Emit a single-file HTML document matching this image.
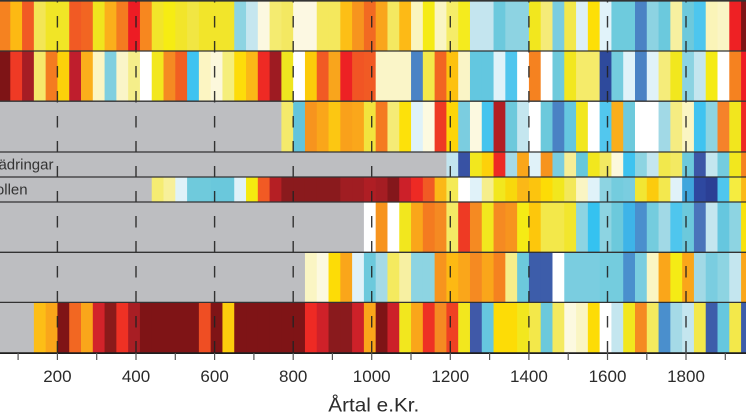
<!DOCTYPE html>
<html><head><meta charset="utf-8"><style>
html,body{margin:0;padding:0;background:#fff;}
svg{display:block;}
text{font-family:"Liberation Sans",Arial,sans-serif;}
</style></head><body>
<svg width="746" height="419" viewBox="0 0 746 419" xmlns="http://www.w3.org/2000/svg">
<rect x="0" y="0" width="746" height="419" fill="#fff"/>
<!-- Row 1 -->
<g transform="translate(-1.5,0) scale(11.787,51)">
<rect x="0" width="1.04" height="1" fill="#F58220"/><rect x="1" width="1.04" height="1" fill="#FDB913"/><rect x="2" width="1.04" height="1" fill="#F15A24"/><rect x="3" width="1.04" height="1" fill="#F3E655"/><rect x="4" width="1.04" height="1" fill="#F1E526"/><rect x="5" width="1.04" height="1" fill="#F1E526"/><rect x="6" width="1.04" height="1" fill="#F15A24"/><rect x="7" width="1.04" height="1" fill="#F26522"/><rect x="8" width="1.04" height="1" fill="#F0E41E"/><rect x="9" width="1.04" height="1" fill="#FBAF1B"/><rect x="10" width="1.04" height="1" fill="#F47B20"/><rect x="11" width="1.04" height="1" fill="#ED1C24"/><rect x="12" width="1.04" height="1" fill="#F7871F"/><rect x="13" width="1.04" height="1" fill="#F2E52A"/><rect x="14" width="1.04" height="1" fill="#F6EC13"/><rect x="15" width="1.04" height="1" fill="#F2E52A"/><rect x="16" width="1.04" height="1" fill="#F1E643"/><rect x="17" width="1.04" height="1" fill="#F2E52A"/><rect x="18" width="1.04" height="1" fill="#F2E52A"/><rect x="19" width="1.04" height="1" fill="#F2E52A"/><rect x="20" width="1.04" height="1" fill="#8DD4E2"/><rect x="21" width="1.04" height="1" fill="#C5E6EF"/><rect x="22" width="1.04" height="1" fill="#FCF8E0"/><rect x="23" width="1.04" height="1" fill="#F4EB70"/><rect x="24" width="1.04" height="1" fill="#F3E862"/><rect x="25" width="1.04" height="1" fill="#FCF8E2"/><rect x="26" width="1.04" height="1" fill="#FCF8E2"/><rect x="27" width="1.04" height="1" fill="#F4E85D"/><rect x="28" width="1.04" height="1" fill="#F4E85D"/><rect x="29" width="1.04" height="1" fill="#FDBF16"/><rect x="30" width="1.04" height="1" fill="#F7941E"/><rect x="31" width="1.04" height="1" fill="#F26A22"/><rect x="32" width="1.04" height="1" fill="#F9A51C"/><rect x="33" width="1.04" height="1" fill="#F4E861"/><rect x="34" width="1.04" height="1" fill="#FDBA16"/><rect x="35" width="1.04" height="1" fill="#FAF5BE"/><rect x="36" width="1.04" height="1" fill="#F5EB15"/><rect x="37" width="1.04" height="1" fill="#FAF5C3"/><rect x="38" width="1.04" height="1" fill="#F5EC69"/><rect x="39" width="1.04" height="1" fill="#F5EB1E"/><rect x="40" width="1.04" height="1" fill="#C4E5EF"/><rect x="41" width="1.04" height="1" fill="#C4E5EF"/><rect x="42" width="1.04" height="1" fill="#6CC9DD"/><rect x="43" width="1.04" height="1" fill="#8DD3E2"/><rect x="44" width="1.04" height="1" fill="#8DD3E2"/><rect x="45" width="1.04" height="1" fill="#F2E71E"/><rect x="46" width="1.04" height="1" fill="#F5EB78"/><rect x="47" width="1.04" height="1" fill="#7ACDE0"/><rect x="48" width="1.04" height="1" fill="#F3E84A"/><rect x="49" width="1.04" height="1" fill="#DDF0F8"/><rect x="50" width="1.04" height="1" fill="#FDDF06"/><rect x="51" width="1.04" height="1" fill="#E1F3FA"/><rect x="52" width="1.04" height="1" fill="#6ECBDD"/><rect x="53" width="1.04" height="1" fill="#6ECBDD"/><rect x="54" width="1.04" height="1" fill="#4A82C4"/><rect x="55" width="1.04" height="1" fill="#8DD3E2"/><rect x="56" width="1.04" height="1" fill="#6BC9DD"/><rect x="57" width="1.04" height="1" fill="#F7F0A0"/><rect x="58" width="1.04" height="1" fill="#6DC9DC"/><rect x="59" width="1.04" height="1" fill="#4DC6EE"/><rect x="60" width="1.04" height="1" fill="#FAF4B8"/><rect x="61" width="1.04" height="1" fill="#FAF5C5"/><rect x="62" width="1.04" height="1" fill="#EE2124"/><rect x="63" width="1.04" height="1" fill="#7E1416"/>
</g>
<!-- Row 2 -->
<g transform="translate(-1.5,51) scale(11.787,50.2)">
<rect x="0" width="1.04" height="1" fill="#7E1416"/><rect x="1" width="1.04" height="1" fill="#EF3A25"/><rect x="2" width="1.04" height="1" fill="#A61D24"/><rect x="3" width="1.04" height="1" fill="#F6E86A"/><rect x="4" width="1.04" height="1" fill="#F47B20"/><rect x="5" width="1.04" height="1" fill="#FCD10A"/><rect x="6" width="1.04" height="1" fill="#BF1E2D"/><rect x="7" width="1.04" height="1" fill="#FBAF1B"/><rect x="8" width="1.04" height="1" fill="#FCF5C2"/><rect x="9" width="1.04" height="1" fill="#7FCFE0"/><rect x="10" width="1.04" height="1" fill="#FAF5C8"/><rect x="11" width="1.04" height="1" fill="#F5EE8A"/><rect x="12" width="1.04" height="1" fill="#FFFFFF"/><rect x="13" width="1.04" height="1" fill="#F2E71E"/><rect x="14" width="1.04" height="1" fill="#F58A22"/><rect x="15" width="1.04" height="1" fill="#F15F22"/><rect x="16" width="1.04" height="1" fill="#3EC3F0"/><rect x="17" width="1.04" height="1" fill="#FCF5C2"/><rect x="18" width="1.04" height="1" fill="#FCF8DC"/><rect x="19" width="1.04" height="1" fill="#F5EE7C"/><rect x="20" width="1.04" height="1" fill="#FDDC0A"/><rect x="21" width="1.04" height="1" fill="#FBB817"/><rect x="22" width="1.04" height="1" fill="#EE2A24"/><rect x="23" width="1.04" height="1" fill="#9E1B22"/><rect x="24" width="1.04" height="1" fill="#EFE51F"/><rect x="25" width="1.04" height="1" fill="#FFFFFF"/><rect x="26" width="1.04" height="1" fill="#FCCB0A"/><rect x="27" width="1.04" height="1" fill="#F15A24"/><rect x="28" width="1.04" height="1" fill="#F9A51C"/><rect x="29" width="1.04" height="1" fill="#ED2124"/><rect x="30" width="1.04" height="1" fill="#F15524"/><rect x="31" width="1.04" height="1" fill="#F15A24"/><rect x="32" width="1.04" height="1" fill="#FAF5C8"/><rect x="33" width="1.04" height="1" fill="#FAF5C8"/><rect x="34" width="1.04" height="1" fill="#FAF5C8"/><rect x="35" width="1.04" height="1" fill="#4A83C5"/><rect x="36" width="1.04" height="1" fill="#F3E94A"/><rect x="37" width="1.04" height="1" fill="#F26522"/><rect x="38" width="1.04" height="1" fill="#FDC10E"/><rect x="39" width="1.04" height="1" fill="#FAF5C6"/><rect x="40" width="1.04" height="1" fill="#63C7E0"/><rect x="41" width="1.04" height="1" fill="#63C7E0"/><rect x="42" width="1.04" height="1" fill="#DFF2F9"/><rect x="43" width="1.04" height="1" fill="#4FC6EE"/><rect x="44" width="1.04" height="1" fill="#FFFFFF"/><rect x="45" width="1.04" height="1" fill="#F58220"/><rect x="46" width="1.04" height="1" fill="#FFFFFF"/><rect x="47" width="1.04" height="1" fill="#6FCADC"/><rect x="48" width="1.04" height="1" fill="#F2E71E"/><rect x="49" width="1.04" height="1" fill="#F5EB6A"/><rect x="50" width="1.04" height="1" fill="#F5EB6A"/><rect x="51" width="1.04" height="1" fill="#2E4A9C"/><rect x="52" width="1.04" height="1" fill="#74CCDE"/><rect x="53" width="1.04" height="1" fill="#E0F2F9"/><rect x="54" width="1.04" height="1" fill="#4A82C4"/><rect x="55" width="1.04" height="1" fill="#E0F2F9"/><rect x="56" width="1.04" height="1" fill="#F5EC7A"/><rect x="57" width="1.04" height="1" fill="#F2E71E"/><rect x="58" width="1.04" height="1" fill="#8BD3E2"/><rect x="59" width="1.04" height="1" fill="#C4E6EF"/><rect x="60" width="1.04" height="1" fill="#F5EB15"/><rect x="61" width="1.04" height="1" fill="#FFFFFF"/><rect x="62" width="1.04" height="1" fill="#F58220"/><rect x="63" width="1.04" height="1" fill="#EE1C24"/>
</g>
<!-- Row 3 -->
<g transform="translate(-1.5,101.2) scale(11.787,50.8)">
<rect x="0" width="24.04" height="1" fill="#BDBEC1"/>
<rect x="24" width="1.04" height="1" fill="#F4EA6B"/><rect x="25" width="1.04" height="1" fill="#63C4DB"/><rect x="26" width="1.04" height="1" fill="#F7941E"/><rect x="27" width="1.04" height="1" fill="#FAA61A"/><rect x="28" width="1.04" height="1" fill="#FCC712"/><rect x="29" width="1.04" height="1" fill="#F9A11B"/><rect x="30" width="1.04" height="1" fill="#FAA71B"/><rect x="31" width="1.04" height="1" fill="#F2E43E"/><rect x="32" width="1.04" height="1" fill="#F47A20"/><rect x="33" width="1.04" height="1" fill="#F5EB76"/><rect x="34" width="1.04" height="1" fill="#FDE10A"/><rect x="35" width="1.04" height="1" fill="#DFF2F9"/><rect x="36" width="1.04" height="1" fill="#FDFAE0"/><rect x="37" width="1.04" height="1" fill="#EE3A24"/><rect x="38" width="1.04" height="1" fill="#FDD508"/><rect x="39" width="1.04" height="1" fill="#7BCDE0"/><rect x="40" width="1.04" height="1" fill="#FCF9E0"/><rect x="41" width="1.04" height="1" fill="#45C4EE"/><rect x="42" width="1.04" height="1" fill="#B21F24"/><rect x="43" width="1.04" height="1" fill="#6DC9DC"/><rect x="44" width="1.04" height="1" fill="#C4E6EF"/><rect x="45" width="1.04" height="1" fill="#FFFFFF"/><rect x="46" width="1.04" height="1" fill="#6CC9DC"/><rect x="47" width="1.04" height="1" fill="#4A82C4"/><rect x="48" width="1.04" height="1" fill="#65C7E0"/><rect x="49" width="1.04" height="1" fill="#F2E71E"/><rect x="50" width="1.04" height="1" fill="#FFFFFF"/><rect x="51" width="1.04" height="1" fill="#52C7EE"/><rect x="52" width="1.04" height="1" fill="#FAAE1B"/><rect x="53" width="1.04" height="1" fill="#6ECADC"/><rect x="54" width="1.04" height="1" fill="#FFFFFF"/><rect x="55" width="1.04" height="1" fill="#FFFFFF"/><rect x="56" width="1.04" height="1" fill="#A1D9E6"/><rect x="57" width="1.04" height="1" fill="#F5EC82"/><rect x="58" width="1.04" height="1" fill="#FAF5C3"/><rect x="59" width="1.04" height="1" fill="#40C3F0"/><rect x="60" width="1.04" height="1" fill="#8ED4E2"/><rect x="61" width="1.04" height="1" fill="#F5822A"/><rect x="62" width="1.04" height="1" fill="#F2E61E"/><rect x="63" width="1.04" height="1" fill="#EE2A24"/>
</g>
<!-- Row 4 -->
<g transform="translate(-1.5,152) scale(11.787,25)">
<rect x="0" width="38.04" height="1" fill="#BDBEC1"/>
<rect x="38" width="1.04" height="1" fill="#C2E5EF"/><rect x="39" width="1.04" height="1" fill="#3852A4"/><rect x="40" width="1.04" height="1" fill="#F2E71E"/><rect x="41" width="1.04" height="1" fill="#FDD10A"/><rect x="42" width="1.04" height="1" fill="#EE2A24"/><rect x="43" width="1.04" height="1" fill="#A5DAE7"/><rect x="44" width="1.04" height="1" fill="#FAA61A"/><rect x="45" width="1.04" height="1" fill="#E0F2F9"/><rect x="46" width="1.04" height="1" fill="#F7941E"/><rect x="47" width="1.04" height="1" fill="#7ACDE0"/><rect x="48" width="1.04" height="1" fill="#F6EE96"/><rect x="49" width="1.04" height="1" fill="#66C8DD"/><rect x="50" width="1.04" height="1" fill="#F2E71E"/><rect x="51" width="1.04" height="1" fill="#F3E862"/><rect x="52" width="1.04" height="1" fill="#FCF8DC"/><rect x="53" width="1.04" height="1" fill="#3EC3F0"/><rect x="54" width="1.04" height="1" fill="#8DD4E2"/><rect x="55" width="1.04" height="1" fill="#C4E6EF"/><rect x="56" width="1.04" height="1" fill="#F2E84C"/><rect x="57" width="1.04" height="1" fill="#F3E962"/><rect x="58" width="1.04" height="1" fill="#6CC9DC"/><rect x="59" width="1.04" height="1" fill="#3C56A6"/><rect x="60" width="1.04" height="1" fill="#C4E6EF"/><rect x="61" width="1.04" height="1" fill="#74CCDE"/><rect x="62" width="1.04" height="1" fill="#F2E71E"/><rect x="63" width="1.04" height="1" fill="#F58220"/>
</g>
<!-- Row 5 -->
<g transform="translate(-1.5,177) scale(11.787,25)">
<rect x="0" width="13.04" height="1" fill="#BDBEC1"/>
<rect x="13" width="1.04" height="1" fill="#F5EC72"/><rect x="14" width="1.04" height="1" fill="#F7F09A"/><rect x="15" width="1.04" height="1" fill="#DFF2F9"/><rect x="16" width="1.04" height="1" fill="#6FCADC"/><rect x="17" width="1.04" height="1" fill="#6FCADC"/><rect x="18" width="1.04" height="1" fill="#6AC8DC"/><rect x="19" width="1.04" height="1" fill="#6AC8DC"/><rect x="20" width="1.04" height="1" fill="#E0F2F9"/><rect x="21" width="1.04" height="1" fill="#F5EA10"/><rect x="22" width="1.04" height="1" fill="#F15A24"/><rect x="23" width="1.04" height="1" fill="#B51F24"/><rect x="24" width="1.04" height="1" fill="#8A1A1D"/><rect x="25" width="1.04" height="1" fill="#8A1A1D"/><rect x="26" width="1.04" height="1" fill="#8A1A1D"/><rect x="27" width="1.04" height="1" fill="#8A1A1D"/><rect x="28" width="1.04" height="1" fill="#8A1A1D"/><rect x="29" width="1.04" height="1" fill="#A01D22"/><rect x="30" width="1.04" height="1" fill="#A01D22"/><rect x="31" width="1.04" height="1" fill="#AF1E24"/><rect x="32" width="1.04" height="1" fill="#A51D23"/><rect x="33" width="1.04" height="1" fill="#84171B"/><rect x="34" width="1.04" height="1" fill="#CC2029"/><rect x="35" width="1.04" height="1" fill="#EE2A24"/><rect x="36" width="1.04" height="1" fill="#F15A24"/><rect x="37" width="1.04" height="1" fill="#FBB817"/><rect x="38" width="1.04" height="1" fill="#F4EA56"/><rect x="39" width="1.04" height="1" fill="#FFFFFF"/><rect x="40" width="1.04" height="1" fill="#E0F2F9"/><rect x="41" width="1.04" height="1" fill="#F6EE8C"/><rect x="42" width="1.04" height="1" fill="#F2E71E"/><rect x="43" width="1.04" height="1" fill="#F8D80C"/><rect x="44" width="1.04" height="1" fill="#FBB817"/><rect x="45" width="1.04" height="1" fill="#FCC40E"/><rect x="46" width="1.04" height="1" fill="#FDDC06"/><rect x="47" width="1.04" height="1" fill="#F2E71E"/><rect x="48" width="1.04" height="1" fill="#F3E85A"/><rect x="49" width="1.04" height="1" fill="#FAF5C3"/><rect x="50" width="1.04" height="1" fill="#E0F2F9"/><rect x="51" width="1.04" height="1" fill="#8DD4E2"/><rect x="52" width="1.04" height="1" fill="#74CCDE"/><rect x="53" width="1.04" height="1" fill="#7ACDE0"/><rect x="54" width="1.04" height="1" fill="#F2E633"/><rect x="55" width="1.04" height="1" fill="#FCCB0E"/><rect x="56" width="1.04" height="1" fill="#F3E84E"/><rect x="57" width="1.04" height="1" fill="#E0F2F9"/><rect x="58" width="1.04" height="1" fill="#3FA6DD"/><rect x="59" width="1.04" height="1" fill="#2E48A0"/><rect x="60" width="1.04" height="1" fill="#2B3F95"/><rect x="61" width="1.04" height="1" fill="#4FC6EE"/><rect x="62" width="1.04" height="1" fill="#F5EC40"/><rect x="63" width="1.04" height="1" fill="#FBB817"/>
</g>
<!-- Row 6 -->
<g transform="translate(-1.5,202) scale(11.787,50.3)">
<rect x="0" width="31.04" height="1" fill="#BDBEC1"/>
<rect x="31" width="1.04" height="1" fill="#FFFFFF"/><rect x="32" width="1.04" height="1" fill="#F7941E"/><rect x="33" width="1.04" height="1" fill="#FFFFFF"/><rect x="34" width="1.04" height="1" fill="#F2E71E"/><rect x="35" width="1.04" height="1" fill="#FAA61A"/><rect x="36" width="1.04" height="1" fill="#F47B20"/><rect x="37" width="1.04" height="1" fill="#F58A22"/><rect x="38" width="1.04" height="1" fill="#F4EA65"/><rect x="39" width="1.04" height="1" fill="#EE3A24"/><rect x="40" width="1.04" height="1" fill="#F58A22"/><rect x="41" width="1.04" height="1" fill="#F2E71E"/><rect x="42" width="1.04" height="1" fill="#F58A22"/><rect x="43" width="1.04" height="1" fill="#F7941E"/><rect x="44" width="1.04" height="1" fill="#F5EB15"/><rect x="45" width="1.04" height="1" fill="#FDC70C"/><rect x="46" width="1.04" height="1" fill="#F3E84A"/><rect x="47" width="1.04" height="1" fill="#F3E84A"/><rect x="48" width="1.04" height="1" fill="#F2E62E"/><rect x="49" width="1.04" height="1" fill="#8DD4E2"/><rect x="50" width="1.04" height="1" fill="#35C2F0"/><rect x="51" width="1.04" height="1" fill="#8DD4E2"/><rect x="52" width="1.04" height="1" fill="#6CC9DC"/><rect x="53" width="1.04" height="1" fill="#3EB4E8"/><rect x="54" width="1.04" height="1" fill="#4A8FCD"/><rect x="55" width="1.04" height="1" fill="#74CCDE"/><rect x="56" width="1.04" height="1" fill="#A1D9E6"/><rect x="57" width="1.04" height="1" fill="#4FC6EE"/><rect x="58" width="1.04" height="1" fill="#6CC9DC"/><rect x="59" width="1.04" height="1" fill="#4A74BA"/><rect x="60" width="1.04" height="1" fill="#C4E6EF"/><rect x="61" width="1.04" height="1" fill="#66C7DF"/><rect x="62" width="1.04" height="1" fill="#8DD4E2"/><rect x="63" width="1.04" height="1" fill="#F8E20E"/>
</g>
<!-- Row 7 -->
<g transform="translate(-1.5,252.3) scale(11.787,50.1)">
<rect x="0" width="26.04" height="1" fill="#BDBEC1"/>
<rect x="26" width="1.04" height="1" fill="#FAF5C3"/><rect x="27" width="1.04" height="1" fill="#FCF9E0"/><rect x="28" width="1.04" height="1" fill="#FDDC06"/><rect x="29" width="1.04" height="1" fill="#FAA61A"/><rect x="30" width="1.04" height="1" fill="#E0F2F9"/><rect x="31" width="1.04" height="1" fill="#6CC9DC"/><rect x="32" width="1.04" height="1" fill="#A5DAE7"/><rect x="33" width="1.04" height="1" fill="#F4EA5F"/><rect x="34" width="1.04" height="1" fill="#F7F0A2"/><rect x="35" width="1.04" height="1" fill="#8DD4E2"/><rect x="36" width="1.04" height="1" fill="#8DD4E2"/><rect x="37" width="1.04" height="1" fill="#F7941E"/><rect x="38" width="1.04" height="1" fill="#FDB913"/><rect x="39" width="1.04" height="1" fill="#FAA61A"/><rect x="40" width="1.04" height="1" fill="#F58A22"/><rect x="41" width="1.04" height="1" fill="#FAA61A"/><rect x="42" width="1.04" height="1" fill="#F58220"/><rect x="43" width="1.04" height="1" fill="#F6EE8A"/><rect x="44" width="1.04" height="1" fill="#6CC9DC"/><rect x="45" width="1.04" height="1" fill="#3D5DAA"/><rect x="46" width="1.04" height="1" fill="#3D5DAA"/><rect x="47" width="1.04" height="1" fill="#FFFFFF"/><rect x="48" width="1.04" height="1" fill="#7ACDE0"/><rect x="49" width="1.04" height="1" fill="#7ACDE0"/><rect x="50" width="1.04" height="1" fill="#7ACDE0"/><rect x="51" width="1.04" height="1" fill="#74CCDE"/><rect x="52" width="1.04" height="1" fill="#74CCDE"/><rect x="53" width="1.04" height="1" fill="#4A8FCD"/><rect x="54" width="1.04" height="1" fill="#7ACDE0"/><rect x="55" width="1.04" height="1" fill="#FAF5C3"/><rect x="56" width="1.04" height="1" fill="#FAA61A"/><rect x="57" width="1.04" height="1" fill="#F5EB15"/><rect x="58" width="1.04" height="1" fill="#FAA61A"/><rect x="59" width="1.04" height="1" fill="#A1D9E6"/><rect x="60" width="1.04" height="1" fill="#7ACDE0"/><rect x="61" width="1.04" height="1" fill="#8DD4E2"/><rect x="62" width="1.04" height="1" fill="#C4E6EF"/><rect x="63" width="1.04" height="1" fill="#FAA61A"/>
</g>
<!-- Row 8 -->
<g transform="translate(-1.5,302.4) scale(11.787,50.6)">
<rect x="0" width="3.04" height="1" fill="#BDBEC1"/>
<rect x="3" width="1.04" height="1" fill="#FDBE16"/><rect x="4" width="1.04" height="1" fill="#FAA61A"/><rect x="5" width="1.04" height="1" fill="#7F1416"/><rect x="6" width="1.04" height="1" fill="#F26722"/><rect x="7" width="1.04" height="1" fill="#FAA61A"/><rect x="8" width="1.04" height="1" fill="#D2232A"/><rect x="9" width="1.04" height="1" fill="#8B1A1A"/><rect x="10" width="1.04" height="1" fill="#EE3124"/><rect x="11" width="1.04" height="1" fill="#A81E24"/><rect x="12" width="1.04" height="1" fill="#7F1416"/><rect x="13" width="1.04" height="1" fill="#7F1416"/><rect x="14" width="1.04" height="1" fill="#7F1416"/><rect x="15" width="1.04" height="1" fill="#7F1416"/><rect x="16" width="1.04" height="1" fill="#7F1416"/><rect x="17" width="1.04" height="1" fill="#EF4E23"/><rect x="18" width="1.04" height="1" fill="#7F1416"/><rect x="19" width="1.04" height="1" fill="#FDCD0C"/><rect x="20" width="1.04" height="1" fill="#7F1416"/><rect x="21" width="1.04" height="1" fill="#7F1416"/><rect x="22" width="1.04" height="1" fill="#7F1416"/><rect x="23" width="1.04" height="1" fill="#7F1416"/><rect x="24" width="1.04" height="1" fill="#7F1416"/><rect x="25" width="1.04" height="1" fill="#7F1416"/><rect x="26" width="1.04" height="1" fill="#EE2A24"/><rect x="27" width="1.04" height="1" fill="#CF2129"/><rect x="28" width="1.04" height="1" fill="#8A1A1D"/><rect x="29" width="1.04" height="1" fill="#8A1A1D"/><rect x="30" width="1.04" height="1" fill="#CD2129"/><rect x="31" width="1.04" height="1" fill="#FAA61A"/><rect x="32" width="1.04" height="1" fill="#7F1416"/><rect x="33" width="1.04" height="1" fill="#CC2029"/><rect x="34" width="1.04" height="1" fill="#F2E71E"/><rect x="35" width="1.04" height="1" fill="#FAA61A"/><rect x="36" width="1.04" height="1" fill="#EE3124"/><rect x="37" width="1.04" height="1" fill="#F58A22"/><rect x="38" width="1.04" height="1" fill="#EF4123"/><rect x="39" width="1.04" height="1" fill="#F2E71E"/><rect x="40" width="1.04" height="1" fill="#4059A8"/><rect x="41" width="1.04" height="1" fill="#66C7DF"/><rect x="42" width="1.04" height="1" fill="#FDDC06"/><rect x="43" width="1.04" height="1" fill="#FDDC06"/><rect x="44" width="1.04" height="1" fill="#F2E71E"/><rect x="45" width="1.04" height="1" fill="#F3E84A"/><rect x="46" width="1.04" height="1" fill="#6CC9DC"/><rect x="47" width="1.04" height="1" fill="#F4EA5F"/><rect x="48" width="1.04" height="1" fill="#FCF9E0"/><rect x="49" width="1.04" height="1" fill="#FAF5C3"/><rect x="50" width="1.04" height="1" fill="#FDDC06"/><rect x="51" width="1.04" height="1" fill="#FFFFFF"/><rect x="52" width="1.04" height="1" fill="#C4E6EF"/><rect x="53" width="1.04" height="1" fill="#F2E71E"/><rect x="54" width="1.04" height="1" fill="#F58A22"/><rect x="55" width="1.04" height="1" fill="#F4EA5F"/><rect x="56" width="1.04" height="1" fill="#4A8FCD"/><rect x="57" width="1.04" height="1" fill="#A5DAE7"/><rect x="58" width="1.04" height="1" fill="#C4E6EF"/><rect x="59" width="1.04" height="1" fill="#F3E84A"/><rect x="60" width="1.04" height="1" fill="#3D5DAA"/><rect x="61" width="1.04" height="1" fill="#66C7DF"/><rect x="62" width="1.04" height="1" fill="#F3E84A"/><rect x="63" width="1.04" height="1" fill="#3D5DAA"/>
</g>

<!-- Row labels -->
<text x="53.5" y="169.4" font-size="15" fill="#333" text-anchor="end">ädringar</text>
<text x="27.6" y="194.4" font-size="15" fill="#333" text-anchor="end">ollen</text>

<!-- Dashed vertical grid lines -->
<g stroke="#222" stroke-width="1.4" stroke-dasharray="11.5 13.5" stroke-dashoffset="9" stroke-opacity="0.9">
<line x1="57.4" y1="0" x2="57.4" y2="352"/>
<line x1="136" y1="0" x2="136" y2="352"/>
<line x1="214.6" y1="0" x2="214.6" y2="352"/>
<line x1="293.2" y1="0" x2="293.2" y2="352"/>
<line x1="371.7" y1="0" x2="371.7" y2="352"/>
<line x1="450.3" y1="0" x2="450.3" y2="352"/>
<line x1="528.9" y1="0" x2="528.9" y2="352"/>
<line x1="607.5" y1="0" x2="607.5" y2="352"/>
<line x1="686" y1="0" x2="686" y2="352"/>
</g>

<!-- Row separators -->
<g stroke="#333" stroke-width="1.3">
<line x1="0" y1="0.8" x2="746" y2="0.8" stroke-width="1.6"/>
<line x1="0" y1="51" x2="746" y2="51"/>
<line x1="0" y1="101.2" x2="746" y2="101.2"/>
<line x1="0" y1="152" x2="746" y2="152"/>
<line x1="0" y1="177" x2="746" y2="177"/>
<line x1="0" y1="202" x2="746" y2="202"/>
<line x1="0" y1="252.3" x2="746" y2="252.3"/>
<line x1="0" y1="302.4" x2="746" y2="302.4"/>
</g>
<!-- Axis -->
<line x1="0" y1="353.1" x2="746" y2="353.1" stroke="#1e1e1e" stroke-width="1.8"/>
<g stroke="#555" stroke-width="1.2">
<line x1="18.1" y1="353" x2="18.1" y2="360"/>
<line x1="57.4" y1="353" x2="57.4" y2="360"/>
<line x1="96.7" y1="353" x2="96.7" y2="360"/>
<line x1="136" y1="353" x2="136" y2="360"/>
<line x1="175.3" y1="353" x2="175.3" y2="360"/>
<line x1="214.6" y1="353" x2="214.6" y2="360"/>
<line x1="253.9" y1="353" x2="253.9" y2="360"/>
<line x1="293.2" y1="353" x2="293.2" y2="360"/>
<line x1="332.4" y1="353" x2="332.4" y2="360"/>
<line x1="371.7" y1="353" x2="371.7" y2="360"/>
<line x1="411" y1="353" x2="411" y2="360"/>
<line x1="450.3" y1="353" x2="450.3" y2="360"/>
<line x1="489.6" y1="353" x2="489.6" y2="360"/>
<line x1="528.9" y1="353" x2="528.9" y2="360"/>
<line x1="568.2" y1="353" x2="568.2" y2="360"/>
<line x1="607.5" y1="353" x2="607.5" y2="360"/>
<line x1="646.8" y1="353" x2="646.8" y2="360"/>
<line x1="686" y1="353" x2="686" y2="360"/>
<line x1="725.3" y1="353" x2="725.3" y2="360"/>
</g>
<g font-size="17" fill="#2b2b2b" text-anchor="middle">
<text x="57.4" y="382.2">200</text>
<text x="136" y="382.2">400</text>
<text x="214.6" y="382.2">600</text>
<text x="293.2" y="382.2">800</text>
<text x="371.7" y="382.2">1000</text>
<text x="450.3" y="382.2">1200</text>
<text x="528.9" y="382.2">1400</text>
<text x="607.5" y="382.2">1600</text>
<text x="686" y="382.2">1800</text>
<text x="764.6" y="382.2">2000</text>
</g>
<text x="328.3" y="411.6" font-size="19.5" fill="#2b2b2b" textLength="91" lengthAdjust="spacingAndGlyphs">Årtal e.Kr.</text>
</svg>
</body></html>
